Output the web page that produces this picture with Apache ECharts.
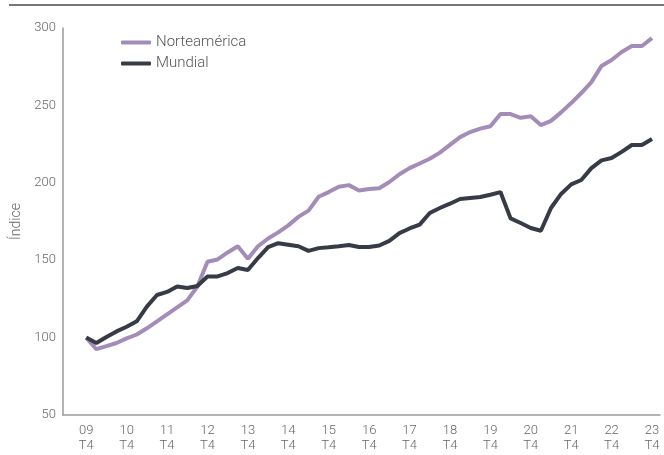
<!DOCTYPE html>
<html>
<head>
<meta charset="utf-8">
<script src="https://cdn.jsdelivr.net/npm/echarts@6/dist/echarts.min.js"></script>
<style>html,body{margin:0;padding:0;background:#fff}#c{width:664px;height:455px}</style>
</head>
<body>
<div id="c"></div>
<script>
// Year labels for each T4 quarter (every 4th quarter)
var yearLabels = ['09','10','11','12','13','14','15','16','17','18','19','20','21','22','23'];
var quarterLabel = 'T4';
// Quarterly index values 09 T4 .. 23 T4 (57 quarters)
var norteamerica = [100,92.5,94.5,96.5,99.5,102,106,110.5,115,119.5,124,133,
  149,150.5,155,159,151,159,164,168,172.5,178,182,191,194,197.5,198.5,195,196,196.5,
  200.5,205.5,209.5,212.5,215.5,219.5,224.5,229.5,232.8,235,236.5,244.4,244.4,242,243,237.3,
  240,245.5,251.5,258,265,275.5,279.3,284.5,288.4,288.4,293.5];
var mundial = [100,96.5,100.4,104,107,110.5,120,127.5,129.5,133,132,133.3,
  139.5,139.5,141.7,145,143.7,151.4,158.5,161,160,159,156,157.8,158.3,159,159.8,158.5,158.5,159.5,
  162.5,167.5,170.5,173,180.5,183.7,186.5,189.5,190.2,190.8,192.3,194,177,174,170.8,169,
  183.7,192.8,199,201.8,209.5,214.5,216,220,224.4,224.4,228.3];
var seriesNames = ['Norteamérica','Mundial'];

function toPairs(arr){ return arr.map(function(v,i){ return [i,v]; }); }
var tickPositions = yearLabels.map(function(_,k){ return k*4; });

var chart = echarts.init(document.getElementById('c'));
var font = 'Roboto, "Noto Sans", sans-serif';
chart.setOption({
  animation:false,
  textStyle:{fontFamily:font},
  grid:{left:63,right:4,top:28,bottom:40},
  graphic:[{type:'line',shape:{x1:9,y1:5,x2:664,y2:5},style:{stroke:'#4a4a4a',lineWidth:1.5},silent:true}],
  legend:{
    orient:'vertical',left:116,top:29,itemWidth:30,itemHeight:4,itemGap:4,icon:'roundRect',
    textStyle:{fontSize:15,lineHeight:17,color:'#555',fontFamily:font,fontWeight:300},
    data:seriesNames
  },
  xAxis:{
    type:'value',min:-2.3,max:56.79,
    axisLine:{show:true,onZero:false,lineStyle:{color:'#9a9a9a',width:1.5}},
    axisTick:{show:false},
    splitLine:{show:false},
    axisLabel:{
      customValues:tickPositions,
      color:'#666',fontSize:13,lineHeight:15,margin:8,fontWeight:300,
      formatter:function(v){ var k=Math.round(v/4); return yearLabels[k]+'\n'+quarterLabel; }
    }
  },
  yAxis:{
    type:'value',min:50,max:300,interval:50,
    name:'Índice',nameLocation:'middle',nameGap:38,nameRotate:90,
    nameTextStyle:{color:'#666',fontSize:14,fontWeight:300},
    axisLine:{show:true,onZero:false,lineStyle:{color:'#9a9a9a',width:1.5}},
    axisTick:{show:false},
    splitLine:{show:false},
    axisLabel:{color:'#666',fontSize:13,margin:7,fontWeight:300}
  },
  series:[
    {name:seriesNames[0],type:'line',data:toPairs(norteamerica),showSymbol:false,symbol:'none',
     lineStyle:{width:4,color:'#a48cb8'},itemStyle:{color:'#a48cb8'}},
    {name:seriesNames[1],type:'line',data:toPairs(mundial),showSymbol:false,symbol:'none',
     lineStyle:{width:4,color:'#373b45'},itemStyle:{color:'#373b45'}}
  ]
});
</script>
</body>
</html>
